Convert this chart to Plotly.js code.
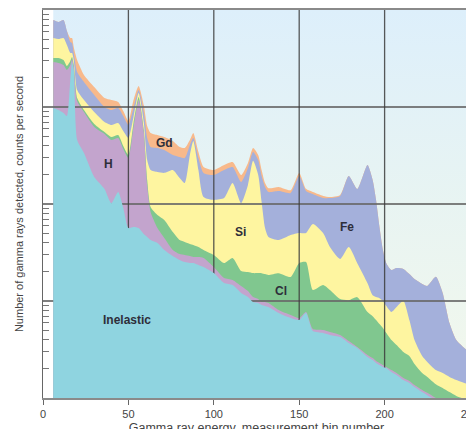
<!DOCTYPE html>
<html>
<head>
<meta charset="utf-8">
<script src="https://cdn.plot.ly/plotly-3.0.1.min.js"></script>
<style>
html,body{margin:0;padding:0;overflow:hidden;background:#ffffff;}
#chart{width:500px;height:440px;}
</style>
</head>
<body>
<div id="chart"></div>
<script>
// Gamma ray energy, measurement bin number
const binNumber = [6,9,12,14,16,17,18,20,24,30,36,40,44,47,50,53,56,59,61,63,67,71,76,80,83,86,88,91,94,100,106,111,116,120,123,126,128,130,132,138,145,150,154,158,164,168,174,179,184,190,193,195,197,199,201,204,207,211,214.5,217.5,222,225,230,234,238,242,248,250];

// Counts per second contributed by each source (stacked from the bottom)
const inelastic = [976,931,867,807,1898,2910,2407,457,336,190,143,102,133,91,56.5,57.9,56.5,49,45.7,42.5,39.6,33.6,29.1,26.5,25.2,24.6,24.6,23.5,22.4,19.4,15.3,14.6,12.1,11.0,9.76,9.53,9.09,8.87,8.67,7.52,6.68,6.37,7.52,4.90,4.68,4.46,4.25,3.69,3.28,2.65,2.46,2.30,2.19,2.09,2.04,1.85,1.73,1.53,1.43,1.30,1.15,1.07,0.95,0.91,0.87,0.83,0.79,0.77];
const hydrogen = [1934,1910,1843,1600,812,214,177,696,551,432,384,355,346,278,241.5,564,1125,503,111,40.1,16.9,11.0,4.5,4.0,4.6,4.5,3.8,4.9,5.4,3.0,2.0,1.9,2.2,1.7,1.24,0.97,0.67,0.89,0.86,0.55,0.49,0.31,0.18,0.24,0.34,0.33,0.21,0.18,0.08,0.13,0.12,0.11,0.11,0.10,0.05,0.09,0.08,0.08,0.07,0.06,0.06,0.06,0.05,0.04,0.04,0.04,0.04,0.04];
const chlorine = [290,359,340,239,270,152,126,85,44,46,25,33,35,27,22,62,87,27,20,10.5,20.5,23.8,17.8,12.0,10.8,9.6,9.4,7.6,5.8,7.4,7.3,11.3,6.1,7.2,8.4,8.9,9.6,9.2,9.0,11.3,10.5,17.9,17.5,7.86,9.6,8.2,6.0,6.3,7.6,4.9,4.4,3.96,3.49,3.08,2.59,2.02,1.71,1.37,1.21,0.88,0.60,0.52,0.39,0.32,0.24,0.18,0.13,0.12];
const silicon = [1940,1820,2090,1709,623,326,341,259,250,219,148,162,170,169,159,104,126,121,107,131,137,141,173,143,124,281,408,188,84.4,80.2,90.4,137,81.6,137,259,180,85.6,37.5,27.2,23.1,30.2,25.6,25.0,49.2,35.6,23.0,16.6,25.8,13.6,7.6,4.5,4.6,4.9,4.73,4.19,3.74,5.15,7.02,3.66,1.72,0.90,0.70,0.55,0.54,0.50,0.48,0.44,0.43];
const iron = [2740,2500,2740,1716,1074,965,551,798,629,443,300,279,292,242,173,188,103,187,195,163,164,151,96,120,133,86,33,74,91,89,109,76,67,78,66,85,89,93.5,87,93.5,82,144,86,64.6,65,79,94,158,118,237,165.5,99,47.2,23.6,15.7,13.2,13.2,11.4,12.6,12.9,12.3,11.95,15.8,10.3,4.28,2.43,1.73,1.62];
const gadolinium = [0,0,0,0,466,575,551,756,327,277,238,250,150,102,65,205,149,162,158,152,136,130,126,82,80,51,60,46,32,25,28,30,30,30,34,36,30,15,13,14,9,15,7,6,6,3,3,0,0,0,0,0,0,0,0,0,0,0,0,0,0,0,0,0,0,0,0,0];

const seriesNames = ['Inelastic','H','Cl','Si','Fe','Gd'];
const xTickVals = [0,50,100,150,200,250];
const yDecades = [1,10,100,1000,10000];

// stack the sources
const layers = [inelastic, hydrogen, chlorine, silicon, iron, gadolinium];
const cumulative = [];
let running = binNumber.map(() => 0);
layers.forEach(l => { running = running.map((v, i) => v + l[i]); cumulative.push(running); });

const colors = ['#8fd4e0', '#c3a4cd', '#80c78f', '#fef5a0', '#a4b0db', '#f8b98b'];
const xFirst = binNumber[0], xLast = binNumber[binNumber.length - 1];
const yMin = yDecades[0], yMax = yDecades[yDecades.length - 1];

function area(idx) {
  return {
    type: 'scatter', mode: 'lines', name: seriesNames[idx],
    x: binNumber, y: cumulative[idx],
    line: {width: 0, shape: 'spline', smoothing: 0.6, color: colors[idx]},
    fill: 'tozeroy', fillcolor: colors[idx], hoverinfo: 'skip', showlegend: false
  };
}

const traces = [];
// background of the spectrum region
traces.push({
  type: 'scatter', mode: 'lines', x: [xFirst, xLast, xLast, xFirst, xFirst], y: [yMax, yMax, yMin, yMin, yMax],
  fill: 'toself', line: {width: 0},
  fillgradient: {type: 'vertical', colorscale: [[0, '#f3f8ec'], [0.5, '#e8f4f2'], [1, '#ddeffb']]},
  hoverinfo: 'skip', showlegend: false
});
for (let i = 5; i >= 1; i--) traces.push(area(i));

// grid lines (drawn above upper layers, under the inelastic layer)
const vx = [], vy = [];
xTickVals.slice(1, -1).forEach(v => { vx.push(v, v, null); vy.push(yMin, yMax, null); });
const hx = [], hy = [];
yDecades.slice(1, -1).forEach(v => { hx.push(0, 250, null); hy.push(v, v, null); });
traces.push({type: 'scatter', mode: 'lines', x: hx, y: hy, line: {color: 'rgba(105,105,105,0.85)', width: 2}, hoverinfo: 'skip', showlegend: false});
traces.push({type: 'scatter', mode: 'lines', x: vx, y: vy, line: {color: 'rgba(60,60,60,0.85)', width: 1.3}, hoverinfo: 'skip', showlegend: false});
traces.push(area(0));

// minor log ticks
const yTickVals = [];
yDecades.slice(0, -1).forEach(d => { for (let m = 2; m <= 9; m++) yTickVals.push(m * d); });

const labelFont = {family: 'Liberation Sans, Arial, sans-serif', size: 12, color: '#2e2e3a'};
const ann = (text, x, ylog) => ({text: '<b>' + text + '</b>', x: x, y: ylog, xref: 'x', yref: 'y', showarrow: false, font: labelFont});

const layout = {
  width: 500, height: 440,
  margin: {l: 43, r: 30, t: 10, b: 42},
  paper_bgcolor: '#ffffff', plot_bgcolor: '#ffffff',
  showlegend: false,
  xaxis: {
    range: [0, 250], tickvals: xTickVals, ticktext: xTickVals.map(String),
    showgrid: false, zeroline: false, showline: true, mirror: true,
    linecolor: '#8a8a8a', linewidth: 2,
    ticks: 'outside', ticklen: 5, tickcolor: '#666', tickwidth: 1,
    tickfont: {family: 'Liberation Sans Narrow, Arial Narrow, sans-serif', size: 11, color: '#444'},
    title: {text: 'Gamma ray energy, measurement bin number', standoff: 4,
            font: {family: 'Liberation Sans Narrow, Arial Narrow, sans-serif', size: 12.5, color: '#444'}}
  },
  yaxis: {
    type: 'log', range: [0, 4], tickvals: yTickVals, showticklabels: false,
    showgrid: false, zeroline: false, showline: true,
    linecolor: '#666', linewidth: 1.5,
    ticks: 'inside', ticklen: 6, tickcolor: '#777', tickwidth: 1,
    title: {text: 'Number of gamma rays detected, counts per second', standoff: 15,
            font: {family: 'Liberation Sans Narrow, Arial Narrow, sans-serif', size: 11, color: '#444'}}
  },
  annotations: [
    ann('Gd', 71.1, 2.629),
    ann('H', 38.3, 2.412),
    ann('Si', 115.9, 1.711),
    ann('Fe', 177.7, 1.763),
    ann('Cl', 139.6, 1.103),
    ann('Inelastic', 48.9, 0.804)
  ]
};

Plotly.newPlot('chart', traces, layout, {staticPlot: true, displayModeBar: false});
</script>
</body>
</html>
